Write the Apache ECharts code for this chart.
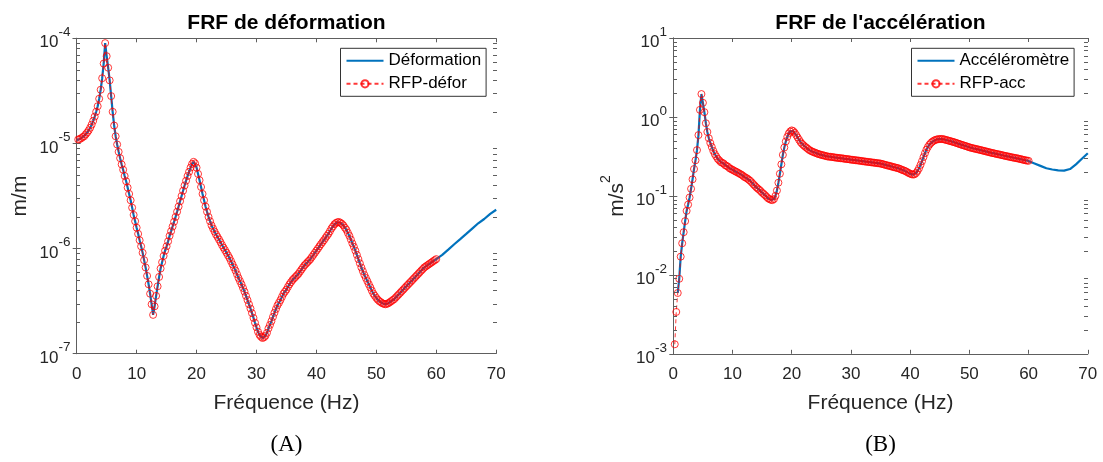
<!DOCTYPE html>
<html>
<head>
<meta charset="utf-8">
<script src="https://cdn.jsdelivr.net/npm/echarts@6/dist/echarts.min.js"></script>
<style>
html,body{margin:0;padding:0;background:#fff;}
#chart{width:1103px;height:462px;}
</style>
</head>
<body>
<div id="chart"></div>
<script>
// ---------- DATA ----------
// Panel A : strain FRF (m/m), frequency in Hz
const freqA = [
  0,0.25,0.5,0.75,1,1.25,1.5,1.75,2,2.25,2.5,2.75,3,3.25,3.5,3.75,4,4.25,4.5,4.75,
  5,5.25,5.5,5.75,6,6.25,6.5,6.75,7,7.25,7.5,7.75,8,8.25,8.5,8.75,9,9.25,9.5,9.75,
  10,10.25,10.5,10.75,11,11.25,11.5,11.75,12,12.25,12.5,12.75,13,13.25,13.5,13.75,14,14.25,14.5,14.75,
  15,15.25,15.5,15.75,16,16.25,16.5,16.75,17,17.25,17.5,17.75,18,18.25,18.5,18.75,19,19.25,19.5,19.75,
  20,20.25,20.5,20.75,21,21.25,21.5,21.75,22,22.25,22.5,22.75,23,23.25,23.5,23.75,24,24.25,24.5,24.75,
  25,25.25,25.5,25.75,26,26.25,26.5,26.75,27,27.25,27.5,27.75,28,28.25,28.5,28.75,29,29.25,29.5,29.75,
  30,30.25,30.5,30.75,31,31.25,31.5,31.75,32,32.25,32.5,32.75,33,33.25,33.5,33.75,34,34.25,34.5,34.75,
  35,35.25,35.5,35.75,36,36.25,36.5,36.75,37,37.25,37.5,37.75,38,38.25,38.5,38.75,39,39.25,39.5,39.75,
  40,40.25,40.5,40.75,41,41.25,41.5,41.75,42,42.25,42.5,42.75,43,43.25,43.5,43.75,44,44.25,44.5,44.75,
  45,45.25,45.5,45.75,46,46.25,46.5,46.75,47,47.25,47.5,47.75,48,48.25,48.5,48.75,49,49.25,49.5,49.75,
  50,50.25,50.5,50.75,51,51.25,51.5,51.75,52,52.25,52.5,52.75,53,53.25,53.5,53.75,54,54.25,54.5,54.75,
  55,55.25,55.5,55.75,56,56.25,56.5,56.75,57,57.25,57.5,57.75,58,58.25,58.5,58.75,59,59.25,59.5,59.75,
  60,61,62,63,64,65,66,67,68,69,70
];
const deformation = [
  1.08e-5,1.09e-5,1.10e-5,1.12e-5,1.15e-5,1.17e-5,1.22e-5,1.27e-5,1.33e-5,1.41e-5,1.51e-5,1.64e-5,1.80e-5,2.00e-5,2.26e-5,2.66e-5,3.24e-5,4.17e-5,5.75e-5,9.0e-5,
  6.76e-5,5.25e-5,3.98e-5,2.82e-5,2.00e-5,1.48e-5,1.17e-5,9.77e-6,8.32e-6,7.24e-6,6.31e-6,5.62e-6,4.90e-6,4.37e-6,3.80e-6,3.31e-6,2.88e-6,2.45e-6,2.09e-6,1.82e-6,
  1.58e-6,1.38e-6,1.20e-6,1.05e-6,9.12e-7,7.76e-7,6.61e-7,5.50e-7,4.57e-7,3.72e-7,2.95e-7,2.34e-7,2.82e-7,3.55e-7,4.37e-7,5.37e-7,6.46e-7,7.41e-7,8.51e-7,9.55e-7,
  1.05e-6,1.17e-6,1.32e-6,1.46e-6,1.62e-6,1.80e-6,2.00e-6,2.24e-6,2.51e-6,2.82e-6,3.16e-6,3.55e-6,3.98e-6,4.42e-6,4.90e-6,5.37e-6,5.89e-6,6.38e-6,6.68e-6,6.46e-6,
  5.89e-6,5.13e-6,4.47e-6,3.85e-6,3.31e-6,2.88e-6,2.51e-6,2.24e-6,2.00e-6,1.82e-6,1.66e-6,1.55e-6,1.45e-6,1.36e-6,1.29e-6,1.22e-6,1.15e-6,1.08e-6,1.02e-6,9.66e-7,
  9.12e-7,8.61e-7,8.13e-7,7.59e-7,7.08e-7,6.61e-7,6.17e-7,5.69e-7,5.25e-7,4.90e-7,4.57e-7,4.22e-7,3.89e-7,3.55e-7,3.24e-7,2.95e-7,2.69e-7,2.43e-7,2.19e-7,1.97e-7,
  1.78e-7,1.62e-7,1.51e-7,1.45e-7,1.41e-7,1.43e-7,1.48e-7,1.58e-7,1.74e-7,1.88e-7,2.04e-7,2.24e-7,2.45e-7,2.66e-7,2.88e-7,3.05e-7,3.24e-7,3.47e-7,3.72e-7,3.89e-7,
  4.07e-7,4.32e-7,4.57e-7,4.79e-7,5.01e-7,5.19e-7,5.37e-7,5.56e-7,5.75e-7,6.03e-7,6.31e-7,6.61e-7,6.92e-7,7.16e-7,7.41e-7,7.67e-7,7.94e-7,8.32e-7,8.71e-7,9.12e-7,
  9.55e-7,1.00e-6,1.05e-6,1.10e-6,1.15e-6,1.20e-6,1.26e-6,1.32e-6,1.38e-6,1.46e-6,1.55e-6,1.62e-6,1.70e-6,1.75e-6,1.78e-6,1.79e-6,1.76e-6,1.72e-6,1.66e-6,1.58e-6,
  1.51e-6,1.41e-6,1.32e-6,1.22e-6,1.12e-6,1.04e-6,9.55e-7,8.71e-7,7.94e-7,7.24e-7,6.61e-7,6.10e-7,5.62e-7,5.25e-7,4.90e-7,4.57e-7,4.27e-7,3.98e-7,3.72e-7,3.55e-7,
  3.39e-7,3.26e-7,3.16e-7,3.09e-7,3.02e-7,2.98e-7,2.95e-7,2.98e-7,3.02e-7,3.09e-7,3.16e-7,3.24e-7,3.31e-7,3.43e-7,3.55e-7,3.67e-7,3.80e-7,3.94e-7,4.07e-7,4.22e-7,
  4.37e-7,4.52e-7,4.68e-7,4.84e-7,5.01e-7,5.19e-7,5.37e-7,5.56e-7,5.75e-7,5.96e-7,6.17e-7,6.38e-7,6.61e-7,6.76e-7,6.92e-7,7.08e-7,7.24e-7,7.41e-7,7.59e-7,7.76e-7,
  7.94e-7,8.71e-7,9.77e-7,1.10e-6,1.23e-6,1.38e-6,1.55e-6,1.74e-6,1.91e-6,2.14e-6,2.34e-6
];
const rfpDeforRange = [0.25, 60];   // band covered by the RFP fit (Hz)

// Panel B : acceleration FRF (m/s^2), frequency in Hz
const freqB = [
  0.25,0.5,0.75,1,1.25,1.5,1.75,2,2.25,2.5,2.75,3,3.25,3.5,3.75,4,4.25,4.5,4.75,5,
  5.25,5.5,5.75,6,6.25,6.5,6.75,7,7.25,7.5,7.75,8,8.25,8.5,8.75,9,9.25,9.5,9.75,10,
  10.25,10.5,10.75,11,11.25,11.5,11.75,12,12.25,12.5,12.75,13,13.25,13.5,13.75,14,14.25,14.5,14.75,15,
  15.25,15.5,15.75,16,16.25,16.5,16.75,17,17.25,17.5,17.75,18,18.25,18.5,18.75,19,19.25,19.5,19.75,20,
  20.25,20.5,20.75,21,21.25,21.5,21.75,22,22.25,22.5,22.75,23,23.25,23.5,23.75,24,24.25,24.5,24.75,25,
  25.25,25.5,25.75,26,26.25,26.5,26.75,27,27.25,27.5,27.75,28,28.25,28.5,28.75,29,29.25,29.5,29.75,30,
  30.25,30.5,30.75,31,31.25,31.5,31.75,32,32.25,32.5,32.75,33,33.25,33.5,33.75,34,34.25,34.5,34.75,35,
  35.25,35.5,35.75,36,36.25,36.5,36.75,37,37.25,37.5,37.75,38,38.25,38.5,38.75,39,39.25,39.5,39.75,40,
  40.25,40.5,40.75,41,41.25,41.5,41.75,42,42.25,42.5,42.75,43,43.25,43.5,43.75,44,44.25,44.5,44.75,45,
  45.25,45.5,45.75,46,46.25,46.5,46.75,47,47.25,47.5,47.75,48,48.25,48.5,48.75,49,49.25,49.5,49.75,50,
  50.25,50.5,50.75,51,51.25,51.5,51.75,52,52.25,52.5,52.75,53,53.25,53.5,53.75,54,54.25,54.5,54.75,55,
  55.25,55.5,55.75,56,56.25,56.5,56.75,57,57.25,57.5,57.75,58,58.25,58.5,58.75,59,59.25,59.5,59.75,60,
  61,62,63,64,65,66,67,68,69,70
];
const acceleration = [
  1.32e-3,3.39e-3,5.89e-3,8.91e-3,1.70e-2,2.51e-2,3.47e-2,4.79e-2,6.46e-2,7.76e-2,9.55e-2,0.123,0.162,0.219,0.282,0.380,0.589,1.23,1.95,1.51,
  1.15,0.832,0.646,0.537,0.468,0.417,0.372,0.339,0.316,0.295,0.282,0.269,0.263,0.257,0.245,0.240,0.234,0.224,0.219,0.214,
  0.209,0.204,0.200,0.195,0.190,0.186,0.180,0.174,0.170,0.166,0.160,0.155,0.148,0.141,0.135,0.129,0.124,0.120,0.115,0.110,
  0.106,0.102,0.0975,0.0933,0.0910,0.0891,0.0885,0.0912,0.100,0.117,0.147,0.191,0.251,0.331,0.410,0.490,0.560,0.617,0.655,0.676,
  0.662,0.631,0.590,0.550,0.512,0.479,0.456,0.437,0.421,0.407,0.393,0.380,0.371,0.363,0.357,0.351,0.345,0.339,0.335,0.331,
  0.327,0.324,0.320,0.316,0.314,0.313,0.311,0.309,0.307,0.305,0.303,0.302,0.300,0.299,0.297,0.295,0.293,0.292,0.290,0.288,
  0.286,0.285,0.283,0.282,0.280,0.279,0.277,0.275,0.273,0.272,0.270,0.269,0.267,0.266,0.264,0.263,0.261,0.260,0.258,0.257,
  0.254,0.251,0.248,0.245,0.242,0.240,0.237,0.234,0.231,0.229,0.226,0.224,0.220,0.216,0.212,0.209,0.205,0.200,0.195,0.191,
  0.188,0.186,0.188,0.195,0.207,0.224,0.247,0.275,0.310,0.347,0.385,0.417,0.445,0.468,0.486,0.501,0.511,0.519,0.523,0.525,
  0.526,0.525,0.519,0.513,0.507,0.501,0.495,0.489,0.483,0.477,0.470,0.463,0.456,0.449,0.443,0.437,0.431,0.425,0.419,0.412,
  0.408,0.403,0.399,0.395,0.391,0.387,0.383,0.379,0.375,0.371,0.367,0.363,0.359,0.355,0.351,0.348,0.345,0.341,0.338,0.335,
  0.332,0.328,0.325,0.322,0.319,0.316,0.313,0.310,0.307,0.305,0.302,0.300,0.297,0.294,0.291,0.288,0.285,0.282,0.280,0.278,
  0.257,0.240,0.224,0.216,0.211,0.209,0.219,0.251,0.295,0.347
];
const accelStartHz = 0.75;          // measured accelerometer curve starts here
const rfpAccRange = [0.25, 60];

// axes / ticks
const xTicksHz = [0, 10, 20, 30, 40, 50, 60, 70];
const yRangeA = [1e-7, 1e-4];
const yRangeB = [1e-3, 1e1];
const decadesA = [1e-7, 1e-6, 1e-5];
const decadesB = [1e-3, 1e-2, 1e-1, 1e0];
const minorMultipliers = [2, 3, 4, 5, 6, 7, 8, 9];

// ---------- CHART ----------
const FONT = '"Liberation Sans", Arial, Helvetica, sans-serif';
const AXIS = '#5e5e5e';
const TXT = '#262626';
const BLUE = '#0072BD';
const RED = 'rgba(255,0,0,0.78)';

const pairsA = freqA.map((f, i) => [f, deformation[i]]);
const rfpA = pairsA.filter(p => p[0] >= rfpDeforRange[0] && p[0] <= rfpDeforRange[1]);
const pairsB = freqB.map((f, i) => [f, acceleration[i]]);
const measB = pairsB.filter(p => p[0] >= accelStartHz);
const rfpB = pairsB.filter(p => p[0] >= rfpAccRange[0] && p[0] <= rfpAccRange[1]);

const xMin = xTicksHz[0], xMax = xTicksHz[xTicksHz.length - 1];

const grids = [
  { left: 76.7, top: 38.3, width: 419.5, height: 315.4, outerBoundsMode: 'none', containLabel: false },
  { left: 673.3, top: 38.0, width: 414.5, height: 315.8, outerBoundsMode: 'none', containLabel: false }
];

function xAxisPair(gi) {
  const common = {
    type: 'value', gridIndex: gi, min: xMin, max: xMax, interval: 10,
    axisLine: { show: true, onZero: false, lineStyle: { color: AXIS, width: 1 } },
    axisTick: { show: true, inside: true, length: 4, lineStyle: { color: AXIS } },
    splitLine: { show: false }
  };
  return [
    Object.assign({}, common, {
      position: 'bottom',
      axisLabel: { show: true, fontSize: 17, color: TXT, fontFamily: FONT, margin: 12 },
      name: 'Fréquence (Hz)', nameLocation: 'middle', nameGap: 39,
      nameTextStyle: { fontSize: 21, color: TXT, fontFamily: FONT }
    }),
    Object.assign({}, common, { position: 'top', axisLabel: { show: false } })
  ];
}

const supRich = {
  b: { fontSize: 17, color: TXT, fontFamily: FONT, lineHeight: 17, verticalAlign: 'bottom' },
  e: { fontSize: 13.5, color: TXT, fontFamily: FONT, lineHeight: 13, verticalAlign: 'top' },
  s: { fontSize: 1, lineHeight: 26 }
};

function yAxisPair(gi, range, name, nameGap) {
  const common = {
    type: 'log', logBase: 10, gridIndex: gi, min: range[0], max: range[1],
    axisLine: { show: true, lineStyle: { color: AXIS, width: 1 } },
    axisTick: { show: true, inside: true, length: 4, lineStyle: { color: AXIS } },
    splitLine: { show: false }, minorTick: { show: false }
  };
  return [
    Object.assign({}, common, {
      position: 'left',
      axisLabel: {
        show: true, margin: 6,
        formatter: v => '{b|10}{e|' + Math.round(Math.log10(v)) + '}{s| }',
        rich: supRich
      },
      name: name, nameLocation: 'middle', nameRotate: 90, nameGap: nameGap,
      nameTextStyle: {
        fontSize: 21, color: TXT, fontFamily: FONT,
        rich: {
          a: { fontSize: 21, color: TXT, fontFamily: FONT, lineHeight: 21, verticalAlign: 'bottom' },
          p: { fontSize: 14, color: TXT, fontFamily: FONT, lineHeight: 14, verticalAlign: 'top' },
          s: { fontSize: 1, lineHeight: 28 }
        }
      }
    }),
    Object.assign({}, common, { position: 'right', axisLabel: { show: false } })
  ];
}

function measuredSeries(name, gi, data) {
  return {
    name: name, type: 'line', xAxisIndex: gi * 2, yAxisIndex: gi * 2,
    data: data, symbol: 'none', smooth: false, z: 3,
    lineStyle: { color: BLUE, width: 2.2 }, itemStyle: { color: BLUE }
  };
}
function rfpSeries(name, gi, data) {
  return {
    name: name, type: 'line', xAxisIndex: gi * 2, yAxisIndex: gi * 2,
    data: data, symbol: 'circle', symbolSize: 7, showAllSymbol: true, z: 4,
    lineStyle: { color: RED, width: 1, type: [4, 3] },
    itemStyle: { color: 'rgba(0,0,0,0)', borderColor: RED, borderWidth: 1 }
  };
}

function legendFor(names, left, top) {
  return {
    data: [
      { name: names[0], itemStyle: { color: 'rgba(0,0,0,0)', borderColor: 'rgba(0,0,0,0)', opacity: 0 } },
      { name: names[1] }
    ],
    orient: 'vertical', left: left, top: top,
    itemWidth: 37, itemHeight: 9, itemGap: 6,
    padding: [4, 5, 4, 5],
    borderColor: '#333', borderWidth: 1, backgroundColor: '#fff',
    selectedMode: false,
    textStyle: { fontSize: 17, color: '#000', fontFamily: FONT }
  };
}

const textGraphics = [
  { type: 'text', x: 286.5, y: 23, style: { text: 'FRF de déformation', align: 'center', verticalAlign: 'middle', font: 'bold 21px ' + FONT, fill: '#000' } },
  { type: 'text', x: 880.5, y: 23, style: { text: "FRF de l'accélération", align: 'center', verticalAlign: 'middle', font: 'bold 21px ' + FONT, fill: '#000' } },
  { type: 'text', x: 286.5, y: 445, style: { text: '(A)', align: 'center', verticalAlign: 'middle', font: '23px "Liberation Serif", "DejaVu Serif", serif', fill: '#000' } },
  { type: 'text', x: 880.5, y: 445, style: { text: '(B)', align: 'center', verticalAlign: 'middle', font: '23px "Liberation Serif", "DejaVu Serif", serif', fill: '#000' } }
];

const chart = echarts.init(document.getElementById('chart'), null, { renderer: 'canvas' });
chart.setOption({
  animation: false,
  backgroundColor: '#fff',
  grid: grids,
  xAxis: [].concat(xAxisPair(0), xAxisPair(1)),
  yAxis: [].concat(yAxisPair(0, yRangeA, 'm/m', 46), yAxisPair(1, yRangeB, '{a|m/s}{p|2}{s| }', 46)),
  legend: [
    legendFor(['Déformation', 'RFP-défor'], 340.5, 48.3),
    legendFor(['Accéléromètre', 'RFP-acc'], 911.5, 48.3)
  ],
  graphic: textGraphics,
  series: [
    measuredSeries('Déformation', 0, pairsA),
    rfpSeries('RFP-défor', 0, rfpA),
    measuredSeries('Accéléromètre', 1, measB),
    rfpSeries('RFP-acc', 1, rfpB)
  ]
});

// minor log ticks (2..9 x 10^n) on both vertical sides, placed through the axes' own scales
const tickGraphics = [];
function addMinorTicks(gridIndex, decades) {
  const finder = { xAxisIndex: gridIndex * 2, yAxisIndex: gridIndex * 2 };
  decades.forEach(d => minorMultipliers.forEach(m => {
    const v = m * d;
    const pl = chart.convertToPixel(finder, [xMin, v]);
    const pr = chart.convertToPixel(finder, [xMax, v]);
    const yl = Math.round(pl[1]) + 0.5, yr = Math.round(pr[1]) + 0.5;
    const xl = Math.floor(pl[0]), xr = Math.ceil(pr[0]);
    tickGraphics.push({ type: 'line', silent: true, z: 50, shape: { x1: xl, y1: yl, x2: xl + 4, y2: yl }, style: { stroke: AXIS, lineWidth: 1 } });
    tickGraphics.push({ type: 'line', silent: true, z: 50, shape: { x1: xr, y1: yr, x2: xr - 4, y2: yr }, style: { stroke: AXIS, lineWidth: 1 } });
  }));
}
addMinorTicks(0, decadesA);
addMinorTicks(1, decadesB);
chart.setOption({ graphic: textGraphics.concat(tickGraphics) });
</script>
</body>
</html>
